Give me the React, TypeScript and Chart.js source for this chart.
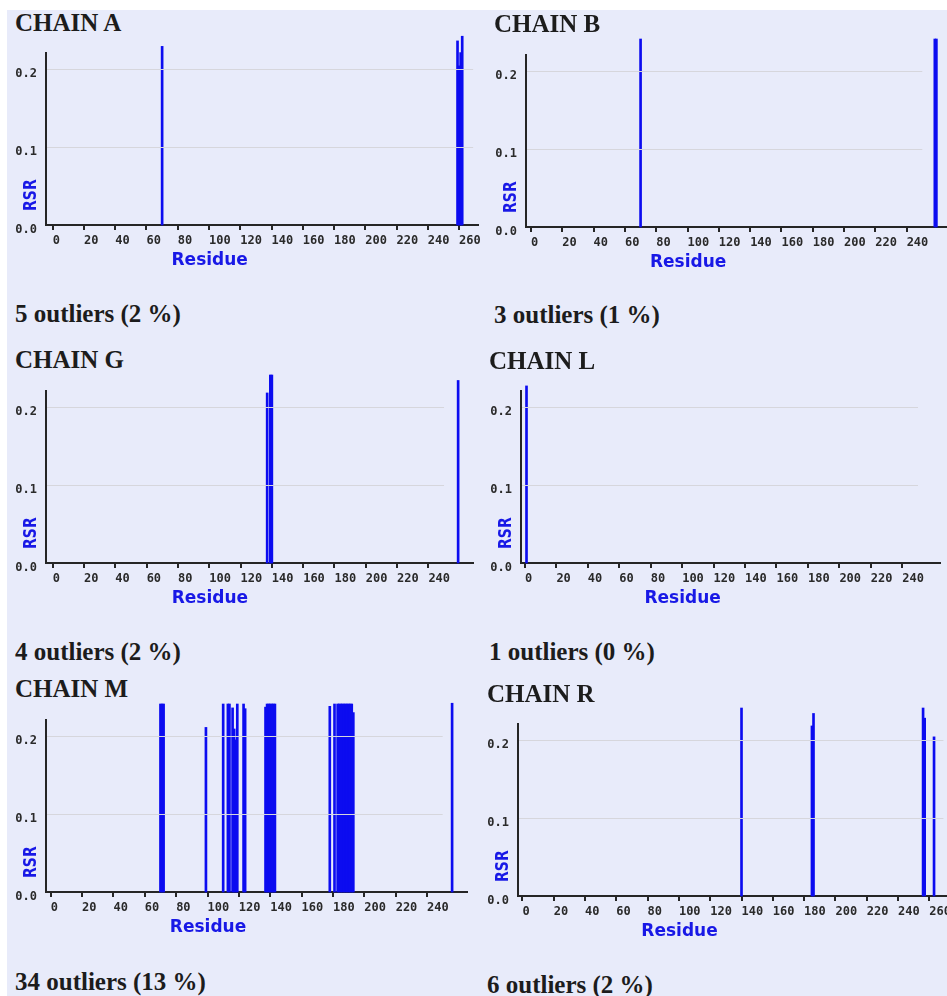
import React, { useEffect, useRef } from 'react';
import { Chart, registerables } from 'chart.js';

Chart.register(...registerables);

// RSR outliers per chain: residue numbers and their RSR values
const chainAResidues = [70, 259, 260, 261, 262];
const chainARsr = [0.229, 0.236, 0.204, 0.221, 0.242];

const chainBResidues = [70, 258, 259];
const chainBRsr = [0.241, 0.241, 0.241];

const chainGResidues = [137, 139, 140, 259];
const chainGRsr = [0.218, 0.241, 0.241, 0.234];

const chainLResidues = [1];
const chainLRsr = [0.227];

const chainMResidues = [
  70, 71, 72, 99, 110, 113, 114, 116, 117, 118, 119, 123, 124,
  137, 138, 139, 140, 141, 142, 143, 178, 181,
  183, 184, 185, 186, 187, 188, 189, 190, 191, 192, 193, 256,
];
const chainMRsr = [
  0.241, 0.241, 0.241, 0.211, 0.241, 0.241, 0.241, 0.236, 0.209, 0.195, 0.241, 0.241, 0.235,
  0.237, 0.241, 0.241, 0.241, 0.241, 0.241, 0.241, 0.238, 0.241,
  0.241, 0.241, 0.241, 0.241, 0.241, 0.241, 0.241, 0.241, 0.241, 0.241, 0.230, 0.242,
];

const chainRResidues = [140, 185, 186, 256, 257, 263];
const chainRRsr = [0.241, 0.218, 0.234, 0.241, 0.228, 0.204];

const chainNames = ['CHAIN A', 'CHAIN B', 'CHAIN G', 'CHAIN L', 'CHAIN M', 'CHAIN R'];
const outlierCaptions = [
  '5 outliers (2 %)',
  '3 outliers (1 %)',
  '4 outliers (2 %)',
  '1 outliers (0 %)',
  '34 outliers (13 %)',
  '6 outliers (2 %)',
];

const rsrTicks = [0, 0.1, 0.2];
const rsrGridLevels = [0.1, 0.2];
const residueTicks = [0, 20, 40, 60, 80, 100, 120, 140, 160, 180, 200, 220, 240, 260];
const rsrAxisLabel = 'RSR';
const residueAxisLabel = 'Residue';

const chainResidues = [chainAResidues, chainBResidues, chainGResidues, chainLResidues, chainMResidues, chainRResidues];
const chainRsr = [chainARsr, chainBRsr, chainGRsr, chainLRsr, chainMRsr, chainRRsr];

// Page layout of each panel (pixels) and the span of its residue axis
const PAD_L = 40;
const PAD_T = 24;
const PAD_B = 48;
const PAD_R = 30;
const PLOT_H = 172;
const RSR_AXIS_TOP = 0.2205;
const RESIDUE_LABEL_AT = 76;
const RSR_LABEL_AT = 0.018;

type Frame = {
  axisX: number; axisY: number; axisEnd: number;
  xMin: number; xMax: number; lastTick: number; gridEnd: number;
  titleX: number; titleY: number; captionX: number; captionY: number;
};

const frames: Frame[] = [
  { axisX: 46, axisY: 225, axisEnd: 478, xMin: -4.3, xMax: 272.1, lastTick: 260, gridEnd: 269, titleX: 15, titleY: 9.8, captionX: 15, captionY: 300.8 },
  { axisX: 526, axisY: 227, axisEnd: 950, xMin: -3.2, xMax: 267.7, lastTick: 240, gridEnd: 250, titleX: 494, titleY: 10.8, captionX: 494, captionY: 301.8 },
  { axisX: 46, axisY: 563, axisEnd: 473, xMin: -4.3, xMax: 268.5, lastTick: 240, gridEnd: 250, titleX: 15, titleY: 347.4, captionX: 15, captionY: 639.1 },
  { axisX: 521, axisY: 563, axisEnd: 940, xMin: -2.5, xMax: 264, lastTick: 240, gridEnd: 250, titleX: 489, titleY: 348.4, captionX: 489, captionY: 639.1 },
  { axisX: 46, axisY: 892, axisEnd: 467, xMin: -3, xMax: 265.5, lastTick: 240, gridEnd: 250, titleX: 15, titleY: 676.4, captionX: 15, captionY: 969.1 },
  { axisX: 518, axisY: 896, axisEnd: 950, xMin: -2.8, xMax: 273.2, lastTick: 260, gridEnd: 269, titleX: 487, titleY: 680.8, captionX: 487, captionY: 971.5 },
];

const PAGE_BG = '#e8ebfa';
const BAR_COLOR = 'rgb(12, 12, 240)';
const AXIS_COLOR = '#252525';
const TICK_COLOR = '#2a2a2a';
const GRID_COLOR = '#d6d6dc';
const LABEL_BLUE = '#1818e6';
const TEXT_COLOR = '#1c1c1c';

function RsrPanel({ index }: { index: number }) {
  const ref = useRef<HTMLCanvasElement>(null);
  const f = frames[index];
  const width = f.axisEnd - f.axisX + PAD_L + PAD_R;
  const height = PAD_T + PLOT_H + PAD_B;
  const left = f.axisX - PAD_L;
  const top = f.axisY - PLOT_H - PAD_T;

  useEffect(() => {
    const canvas = ref.current;
    if (!canvas) return;
    const residues = chainResidues[index];
    const values = chainRsr[index];

    const decor = {
      id: 'rsrDecor',
      // horizontal RSR guides, drawn over the bars and stopping short of the axis end
      afterDatasetsDraw(chart: any) {
        const { ctx, chartArea, scales } = chart;
        const xs = scales.x;
        const ys = scales.y;
        ctx.save();
        ctx.strokeStyle = GRID_COLOR;
        ctx.lineWidth = 1;
        for (const v of rsrGridLevels) {
          const py = Math.round(ys.getPixelForValue(v)) + 0.5;
          ctx.beginPath();
          ctx.moveTo(chartArea.left + 1, py);
          ctx.lineTo(xs.getPixelForValue(f.gridEnd), py);
          ctx.stroke();
        }
        ctx.restore();
      },
      // axis captions
      afterDraw(chart: any) {
        const { ctx, chartArea, scales } = chart;
        ctx.save();
        ctx.fillStyle = LABEL_BLUE;
        ctx.textAlign = 'left';
        ctx.textBaseline = 'alphabetic';
        ctx.font = 'bold 17px "DejaVu Sans", sans-serif';
        ctx.fillText(residueAxisLabel, scales.x.getPixelForValue(RESIDUE_LABEL_AT), chartArea.bottom + 40);
        ctx.translate(chartArea.left - 10, scales.y.getPixelForValue(RSR_LABEL_AT));
        ctx.rotate(-Math.PI / 2);
        ctx.scale(1, 1.25);
        ctx.font = 'bold 14px "DejaVu Sans", sans-serif';
        ctx.fillText(rsrAxisLabel, 0, 0);
        ctx.restore();
      },
    };

    const tickFont = { family: '"DejaVu Sans Mono", monospace', size: 12, weight: 'bold' as const };

    const chart = new Chart(canvas, {
      type: 'bar',
      data: {
        datasets: [
          {
            data: residues.map((r, i) => ({ x: r, y: values[i] })),
            backgroundColor: BAR_COLOR,
            borderWidth: 0,
            barThickness: 2,
            clip: false as any,
          },
        ],
      },
      options: {
        responsive: false,
        animation: false,
        devicePixelRatio: 1,
        layout: { padding: { left: 0, top: PAD_T, right: PAD_R, bottom: 0 } },
        plugins: {
          legend: { display: false },
          tooltip: { enabled: false },
          title: { display: false },
        },
        scales: {
          x: {
            type: 'linear',
            min: f.xMin,
            max: f.xMax,
            offset: false,
            afterBuildTicks: (s: any) => {
              s.ticks = residueTicks.filter((v) => v <= f.lastTick).map((v) => ({ value: v }));
            },
            afterFit: (s: any) => {
              s.height = PAD_B;
            },
            grid: {
              display: true,
              offset: false,
              drawOnChartArea: false,
              drawTicks: true,
              tickLength: 5,
              color: AXIS_COLOR,
              lineWidth: 2,
            },
            border: { display: true, color: AXIS_COLOR, width: 2 },
            ticks: {
              align: 'start',
              padding: 4,
              autoSkip: false,
              maxRotation: 0,
              minRotation: 0,
              color: TICK_COLOR,
              font: tickFont,
              callback: (v: any) => String(v),
            },
          },
          y: {
            type: 'linear',
            min: 0,
            max: RSR_AXIS_TOP,
            afterBuildTicks: (s: any) => {
              s.ticks = rsrTicks.map((v) => ({ value: v }));
            },
            afterFit: (s: any) => {
              s.width = PAD_L;
            },
            grid: { display: false, drawTicks: false },
            border: { display: true, color: AXIS_COLOR, width: 2 },
            ticks: {
              padding: 9,
              labelOffset: 5,
              color: TICK_COLOR,
              font: tickFont,
              callback: (v: any) => Number(v).toFixed(1),
            },
          },
        },
      } as any,
      plugins: [decor],
    });
    return () => chart.destroy();
  }, [index]);

  return (
    <canvas
      ref={ref}
      width={width}
      height={height}
      style={{ position: 'absolute', left, top, width, height }}
    />
  );
}

const headingStyle: React.CSSProperties = {
  position: 'absolute',
  font: 'bold 25px "Liberation Serif", "Times New Roman", serif',
  lineHeight: '25px',
  color: TEXT_COLOR,
  whiteSpace: 'nowrap',
  margin: 0,
};

export default function App() {
  return (
    <>
      <style>{`html, body { background: ${PAGE_BG}; }`}</style>
      <div
        style={{
          position: 'fixed',
          left: 0,
          top: 0,
          right: 0,
          bottom: 0,
          overflow: 'hidden',
          background: PAGE_BG,
        }}
      >
        {/* white page edge above and left of the figure */}
        <div style={{ position: 'absolute', left: 0, top: 0, right: 0, height: 10, background: '#ffffff' }} />
        <div style={{ position: 'absolute', left: 0, top: 0, bottom: 0, width: 7, background: '#ffffff' }} />
        {frames.map((f, i) => (
          <React.Fragment key={chainNames[i]}>
            <div style={{ ...headingStyle, left: f.titleX, top: f.titleY }}>{chainNames[i]}</div>
            <div style={{ ...headingStyle, left: f.captionX, top: f.captionY }}>{outlierCaptions[i]}</div>
            <RsrPanel index={i} />
          </React.Fragment>
        ))}
      </div>
    </>
  );
}
